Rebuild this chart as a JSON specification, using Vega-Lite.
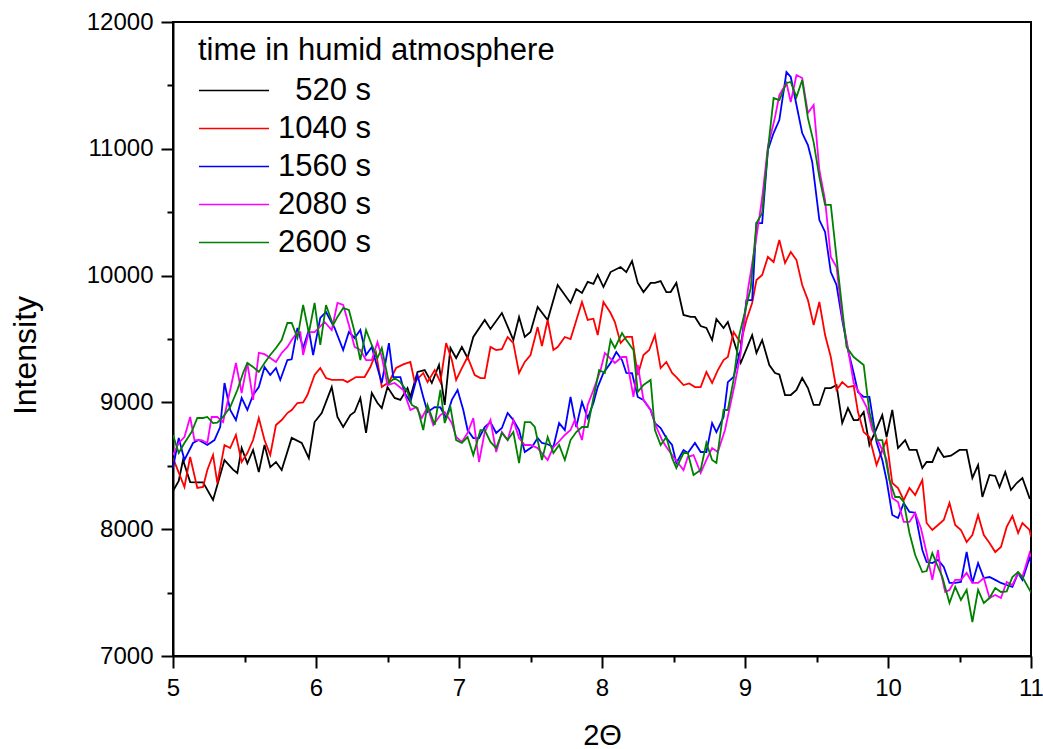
{
"$schema": "https://vega.github.io/schema/vega-lite/v6.json",
"width": 858, "height": 634,
"autosize": "none",
"padding": {"left": 173, "top": 22, "right": 12, "bottom": 93},
"background": "white",
"config": {"view": {"stroke": "black", "strokeWidth": 2}, "font": "Liberation Sans"},
"datasets": {
"black": [[5.0,8300],[5.04,8380],[5.07,8545],[5.12,8372],[5.17,8370],[5.21,8370],[5.28,8230],[5.36,8545],[5.42,8470],[5.45,8443],[5.48,8640],[5.52,8520],[5.56,8625],[5.6,8450],[5.64,8665],[5.68,8490],[5.72,8530],[5.76,8467],[5.83,8720],[5.9,8680],[5.95,8560],[5.99,8845],[6.04,8916],[6.11,9121],[6.15,8885],[6.19,8806],[6.24,8900],[6.27,8924],[6.31,9035],[6.35,8759],[6.39,9074],[6.43,8995],[6.46,8955],[6.5,9121],[6.55,9035],[6.59,9020],[6.64,9113],[6.66,9043],[6.71,9240],[6.76,9255],[6.81,9153],[6.86,9295],[6.9,8980],[6.94,9429],[6.98,9350],[7.02,9437],[7.06,9350],[7.1,9516],[7.18,9650],[7.22,9579],[7.3,9705],[7.38,9492],[7.42,9674],[7.46,9516],[7.5,9555],[7.55,9752],[7.62,9650],[7.69,9926],[7.78,9784],[7.82,9894],[7.86,9863],[7.9,9950],[7.94,9934],[7.97,10005],[8.01,9910],[8.06,10028],[8.13,10068],[8.17,10028],[8.21,10115],[8.25,9942],[8.29,9870],[8.34,9942],[8.37,9942],[8.41,9957],[8.45,9870],[8.48,9870],[8.52,9942],[8.57,9690],[8.62,9674],[8.65,9674],[8.69,9602],[8.73,9587],[8.77,9492],[8.8,9658],[8.85,9587],[8.88,9634],[8.97,9311],[9.05,9531],[9.08,9390],[9.12,9492],[9.17,9295],[9.21,9232],[9.24,9220],[9.28,9058],[9.32,9058],[9.36,9098],[9.4,9192],[9.44,9113],[9.48,8980],[9.52,8980],[9.56,9113],[9.6,9113],[9.64,9137],[9.68,8837],[9.72,8955],[9.76,8861],[9.79,8861],[9.83,8924],[9.87,8664],[9.96,8900],[9.99,8727],[10.03,8940],[10.07,8640],[10.12,8703],[10.15,8625],[10.2,8625],[10.24,8483],[10.27,8530],[10.31,8530],[10.35,8640],[10.39,8570],[10.44,8580],[10.5,8625],[10.55,8625],[10.59,8404],[10.63,8506],[10.66,8254],[10.71,8428],[10.75,8420],[10.78,8333],[10.82,8451],[10.86,8309],[10.9,8364],[10.94,8404],[10.99,8246],[11.0,8250]],
"red": [[5.0,8561],[5.08,8333],[5.12,8570],[5.17,8325],[5.21,8333],[5.24,8467],[5.28,8585],[5.31,8364],[5.36,8664],[5.4,8640],[5.44,8743],[5.48,8530],[5.52,8601],[5.56,8703],[5.6,8877],[5.64,8703],[5.68,8585],[5.72,8822],[5.76,8861],[5.8,8916],[5.83,8940],[5.87,8995],[5.91,9000],[5.94,9058],[5.99,9216],[6.03,9271],[6.07,9192],[6.11,9177],[6.15,9177],[6.19,9177],[6.22,9160],[6.28,9200],[6.34,9200],[6.38,9279],[6.42,9390],[6.46,9121],[6.51,9160],[6.56,9271],[6.61,9300],[6.66,9319],[6.69,9160],[6.75,9232],[6.78,9160],[6.83,9255],[6.87,9160],[6.91,9468],[6.95,9334],[6.98,9177],[7.02,9270],[7.06,9358],[7.11,9216],[7.15,9192],[7.18,9192],[7.22,9437],[7.26,9413],[7.3,9420],[7.34,9516],[7.38,9468],[7.42,9232],[7.46,9319],[7.5,9374],[7.55,9594],[7.58,9445],[7.62,9650],[7.66,9413],[7.69,9437],[7.74,9516],[7.78,9500],[7.86,9792],[7.9,9650],[7.94,9660],[7.97,9531],[8.01,9792],[8.06,9705],[8.09,9634],[8.13,9468],[8.17,9516],[8.21,9516],[8.25,9216],[8.29,9374],[8.33,9413],[8.37,9531],[8.41,9271],[8.45,9319],[8.49,9232],[8.52,9200],[8.57,9137],[8.61,9150],[8.65,9121],[8.69,9121],[8.73,9240],[8.77,9153],[8.81,9255],[8.85,9334],[8.88,9358],[8.92,9555],[8.97,9468],[9.01,9650],[9.05,9784],[9.08,9965],[9.12,10005],[9.16,10147],[9.2,10107],[9.24,10281],[9.28,10099],[9.32,10186],[9.36,10123],[9.4,9926],[9.44,9807],[9.48,9610],[9.52,9792],[9.56,9531],[9.6,9358],[9.64,9098],[9.68,9160],[9.72,9121],[9.76,9130],[9.79,8924],[9.83,8766],[9.87,8727],[9.92,8506],[9.96,8625],[9.99,8703],[10.03,8364],[10.07,8325],[10.11,8230],[10.15,8325],[10.19,8270],[10.24,8388],[10.27,8049],[10.31,7994],[10.35,8033],[10.39,8073],[10.43,8207],[10.47,8033],[10.51,7994],[10.55,7899],[10.59,7954],[10.63,8112],[10.67,7954],[10.71,7891],[10.75,7820],[10.79,7860],[10.83,8018],[10.87,8104],[10.91,7970],[10.94,8049],[10.99,7994],[11.0,7940]],
"blue": [[5.0,8483],[5.04,8719],[5.08,8546],[5.14,8680],[5.18,8703],[5.24,8664],[5.29,8703],[5.33,8806],[5.36,9153],[5.4,8940],[5.44,8861],[5.48,9035],[5.52,8940],[5.56,9058],[5.6,9121],[5.64,9279],[5.68,9216],[5.72,9271],[5.75,9177],[5.8,9334],[5.83,9340],[5.87,9587],[5.91,9429],[5.95,9571],[5.98,9374],[6.03,9666],[6.07,9713],[6.13,9587],[6.19,9413],[6.23,9555],[6.27,9508],[6.31,9571],[6.35,9374],[6.39,9437],[6.43,9271],[6.46,9153],[6.51,9468],[6.54,9200],[6.59,9200],[6.62,9074],[6.66,9003],[6.71,9216],[6.75,9043],[6.78,8924],[6.83,8963],[6.87,8960],[6.91,8877],[6.95,9020],[6.99,9098],[7.03,8940],[7.06,8782],[7.1,8719],[7.14,8719],[7.18,8806],[7.22,8845],[7.26,8759],[7.3,8798],[7.34,8916],[7.38,8861],[7.42,8782],[7.46,8609],[7.51,8648],[7.55,8719],[7.58,8680],[7.62,8670],[7.66,8648],[7.7,8837],[7.74,8782],[7.78,9043],[7.82,8806],[7.86,9003],[7.9,8877],[7.94,8995],[7.97,9121],[8.01,9232],[8.06,9311],[8.1,9397],[8.14,9334],[8.17,9232],[8.21,9230],[8.25,9043],[8.29,9020],[8.34,8940],[8.37,8837],[8.41,8798],[8.45,8719],[8.49,8664],[8.52,8522],[8.57,8625],[8.6,8601],[8.65,8680],[8.69,8609],[8.73,8609],[8.77,8837],[8.8,8766],[8.85,8885],[8.88,9160],[8.92,9200],[8.97,9420],[9.01,9807],[9.05,9807],[9.08,10414],[9.12,10414],[9.16,10990],[9.2,11124],[9.24,11227],[9.29,11605],[9.32,11566],[9.36,11345],[9.4,11124],[9.44,11030],[9.47,10896],[9.52,10438],[9.56,10344],[9.6,10028],[9.64,9926],[9.68,9650],[9.72,9413],[9.76,9232],[9.79,9082],[9.83,9043],[9.87,9043],[9.92,8688],[9.96,8546],[9.99,8388],[10.03,8112],[10.07,8088],[10.11,8207],[10.15,8136],[10.19,8130],[10.24,7836],[10.27,7741],[10.31,7733],[10.35,7757],[10.39,7702],[10.43,7576],[10.47,7576],[10.51,7584],[10.55,7820],[10.59,7576],[10.63,7733],[10.67,7615],[10.71,7623],[10.75,7600],[10.79,7576],[10.83,7560],[10.87,7545],[10.91,7655],[10.94,7600],[10.99,7773],[11.0,7740]],
"magenta": [[5.0,8585],[5.04,8680],[5.08,8727],[5.12,8885],[5.15,8703],[5.2,8703],[5.24,8680],[5.27,8885],[5.31,8885],[5.35,8845],[5.4,9098],[5.44,9311],[5.48,9074],[5.52,9311],[5.56,9020],[5.6,9390],[5.64,9380],[5.68,9350],[5.72,9319],[5.76,9390],[5.8,9437],[5.83,9492],[5.87,9555],[5.89,9555],[5.91,9374],[5.95,9555],[5.99,9555],[6.06,9634],[6.11,9571],[6.15,9784],[6.19,9768],[6.23,9610],[6.27,9437],[6.31,9413],[6.35,9334],[6.39,9334],[6.43,9476],[6.46,9358],[6.5,9137],[6.55,9153],[6.61,9098],[6.66,8940],[6.7,8963],[6.74,8877],[6.78,8963],[6.82,8822],[6.87,8900],[6.9,8924],[6.95,8837],[6.98,8727],[7.02,8688],[7.06,8759],[7.1,8877],[7.14,8530],[7.18,8766],[7.22,8861],[7.26,8609],[7.3,8766],[7.34,8703],[7.38,8861],[7.42,8719],[7.46,8664],[7.5,8664],[7.55,8640],[7.62,8546],[7.66,8648],[7.69,8680],[7.74,8743],[7.78,8782],[7.81,8861],[7.86,8703],[7.9,8980],[7.94,9098],[7.99,9255],[8.02,9390],[8.09,9311],[8.14,9358],[8.17,9358],[8.22,9043],[8.25,9295],[8.29,9020],[8.34,8940],[8.38,8806],[8.42,8703],[8.45,8648],[8.5,8570],[8.57,8467],[8.6,8570],[8.64,8585],[8.69,8443],[8.73,8546],[8.77,8640],[8.81,8609],[8.86,8782],[8.9,8995],[8.93,9153],[8.97,9390],[9.02,9886],[9.08,10304],[9.12,10612],[9.16,11014],[9.21,11250],[9.24,11424],[9.29,11519],[9.32,11369],[9.36,11582],[9.4,11558],[9.44,11282],[9.48,11345],[9.52,10833],[9.56,10596],[9.6,10147],[9.64,10068],[9.68,9674],[9.71,9492],[9.76,9153],[9.8,9074],[9.85,8963],[9.89,8782],[9.92,8719],[9.96,8625],[9.99,8550],[10.03,8246],[10.07,8215],[10.11,8057],[10.15,8057],[10.19,8128],[10.23,8010],[10.27,7812],[10.31,7600],[10.35,7836],[10.37,7655],[10.4,7505],[10.43,7521],[10.47,7600],[10.51,7600],[10.55,7655],[10.59,7576],[10.63,7576],[10.67,7615],[10.71,7457],[10.75,7481],[10.79,7457],[10.83,7584],[10.87,7560],[10.91,7655],[10.94,7623],[10.99,7812],[11.0,7780]],
"green": [[5.0,8743],[5.04,8601],[5.08,8680],[5.13,8766],[5.17,8877],[5.21,8877],[5.24,8885],[5.28,8837],[5.31,8840],[5.35,8885],[5.4,8963],[5.45,9098],[5.49,9232],[5.52,9311],[5.56,9280],[5.6,9240],[5.64,9311],[5.68,9374],[5.72,9429],[5.76,9492],[5.8,9626],[5.83,9626],[5.87,9508],[5.91,9768],[5.95,9547],[5.99,9784],[6.03,9453],[6.07,9768],[6.12,9610],[6.15,9674],[6.19,9744],[6.23,9729],[6.27,9555],[6.31,9334],[6.35,9571],[6.39,9453],[6.43,9350],[6.46,9429],[6.51,9153],[6.55,9192],[6.59,9160],[6.64,9082],[6.67,8980],[6.71,8955],[6.75,8782],[6.78,8980],[6.83,8822],[6.87,9098],[6.9,8837],[6.94,8963],[6.98,8703],[7.02,8680],[7.06,8727],[7.1,8585],[7.15,8782],[7.18,8782],[7.22,8688],[7.26,8640],[7.3,8759],[7.34,8703],[7.38,8766],[7.42,8522],[7.46,8845],[7.5,8845],[7.53,8806],[7.58,8546],[7.62,8727],[7.66,8601],[7.7,8664],[7.74,8546],[7.78,8703],[7.82,8766],[7.86,8806],[7.9,8806],[7.94,9035],[7.98,9255],[8.02,9232],[8.06,9492],[8.09,9429],[8.14,9547],[8.17,9492],[8.22,9413],[8.25,9082],[8.29,9137],[8.34,9177],[8.37,8782],[8.41,8664],[8.45,8727],[8.49,8562],[8.52,8483],[8.57,8601],[8.6,8601],[8.64,8428],[8.69,8467],[8.73,8680],[8.77,8546],[8.8,8522],[8.85,8940],[8.88,8940],[8.92,9177],[8.96,9530],[9.04,9902],[9.08,10414],[9.12,10493],[9.16,10990],[9.2,11400],[9.24,11384],[9.29,11519],[9.32,11527],[9.36,11408],[9.4,11542],[9.44,11242],[9.48,11053],[9.52,10777],[9.56,10557],[9.6,10557],[9.65,10040],[9.71,9437],[9.76,9358],[9.83,9295],[9.87,8924],[9.92,8703],[9.96,8703],[10.01,8388],[10.05,8254],[10.08,8254],[10.11,8215],[10.15,7970],[10.19,7796],[10.24,7662],[10.27,7670],[10.31,7812],[10.35,7702],[10.38,7623],[10.43,7418],[10.47,7545],[10.51,7442],[10.55,7521],[10.59,7268],[10.63,7521],[10.67,7418],[10.71,7457],[10.75,7536],[10.79,7505],[10.83,7510],[10.87,7623],[10.91,7662],[10.94,7623],[10.99,7521],[11.0,7500]]
},
"layer": [
{"data": {"name": "black"}, "transform": [{"calculate": "'520 s'", "as": "t"}, {"calculate": "datum[0]", "as": "x"}, {"calculate": "datum[1]", "as": "y"}], "mark": {"type": "line", "strokeWidth": 1.8, "clip": true}},
{"data": {"name": "red"}, "transform": [{"calculate": "'1040 s'", "as": "t"}, {"calculate": "datum[0]", "as": "x"}, {"calculate": "datum[1]", "as": "y"}], "mark": {"type": "line", "strokeWidth": 1.8, "clip": true}},
{"data": {"name": "blue"}, "transform": [{"calculate": "'1560 s'", "as": "t"}, {"calculate": "datum[0]", "as": "x"}, {"calculate": "datum[1]", "as": "y"}], "mark": {"type": "line", "strokeWidth": 1.8, "clip": true}},
{"data": {"name": "magenta"}, "transform": [{"calculate": "'2080 s'", "as": "t"}, {"calculate": "datum[0]", "as": "x"}, {"calculate": "datum[1]", "as": "y"}], "mark": {"type": "line", "strokeWidth": 1.8, "clip": true}},
{"data": {"name": "green"}, "transform": [{"calculate": "'2600 s'", "as": "t"}, {"calculate": "datum[0]", "as": "x"}, {"calculate": "datum[1]", "as": "y"}], "mark": {"type": "line", "strokeWidth": 1.8, "clip": true}}
],
"encoding": {
"x": {"field": "x", "type": "quantitative", "scale": {"domain": [5, 11], "nice": false, "zero": false},
 "axis": {"title": "2Θ", "values": [5,5.5,6,6.5,7,7.5,8,8.5,9,9.5,10,10.5,11], "grid": false,
  "domainColor": "black", "domainWidth": 2, "tickColor": "black", "tickWidth": 2,
  "tickSize": {"condition": {"test": "datum.value % 1 === 0", "value": 12}, "value": 6},
  "labelExpr": "datum.value % 1 === 0 ? format(datum.value, 'd') : ''",
  "labelFontSize": 24, "labelColor": "black", "labelPadding": 8, "labelFlush": false,
  "titleFontSize": 29, "titleFontWeight": "normal", "titleColor": "black", "titleY": 88, "titleBaseline": "alphabetic"}},
"y": {"field": "y", "type": "quantitative", "scale": {"domain": [7000, 12000], "nice": false, "zero": false},
 "axis": {"title": "Intensity", "values": [7000,7500,8000,8500,9000,9500,10000,10500,11000,11500,12000], "grid": false,
  "domainColor": "black", "domainWidth": 2, "tickColor": "black", "tickWidth": 2,
  "tickSize": {"condition": {"test": "datum.value % 1000 === 0", "value": 12}, "value": 6},
  "labelExpr": "datum.value % 1000 === 0 ? format(datum.value, 'd') : ''",
  "labelFontSize": 24, "labelColor": "black", "labelPadding": 8, "labelFlush": false,
  "titleFontSize": 32, "titleFontWeight": "normal", "titleColor": "black", "titleX": -148, "titleY": 333, "titleBaseline": "middle"}},
"color": {"field": "t", "type": "nominal",
 "scale": {"domain": ["520 s", "1040 s", "1560 s", "2080 s", "2600 s"], "range": ["#000000", "#ff0000", "#0000ff", "#ff00ff", "#008000"]},
 "legend": {"title": "time in humid atmosphere", "orient": "none", "legendX": 25, "legendY": 14,
  "titleFontSize": 31, "titleFontWeight": "normal", "titleColor": "black", "titlePadding": 8, "titleLimit": 0,
  "labelFontSize": 31, "labelColor": "black", "labelOffset": 101, "labelLimit": 0, "labelAlign": "right",
  "symbolType": "stroke", "symbolSize": 4900, "symbolStrokeWidth": 1.5, "clipHeight": 31, "rowPadding": 6}}
}
}
